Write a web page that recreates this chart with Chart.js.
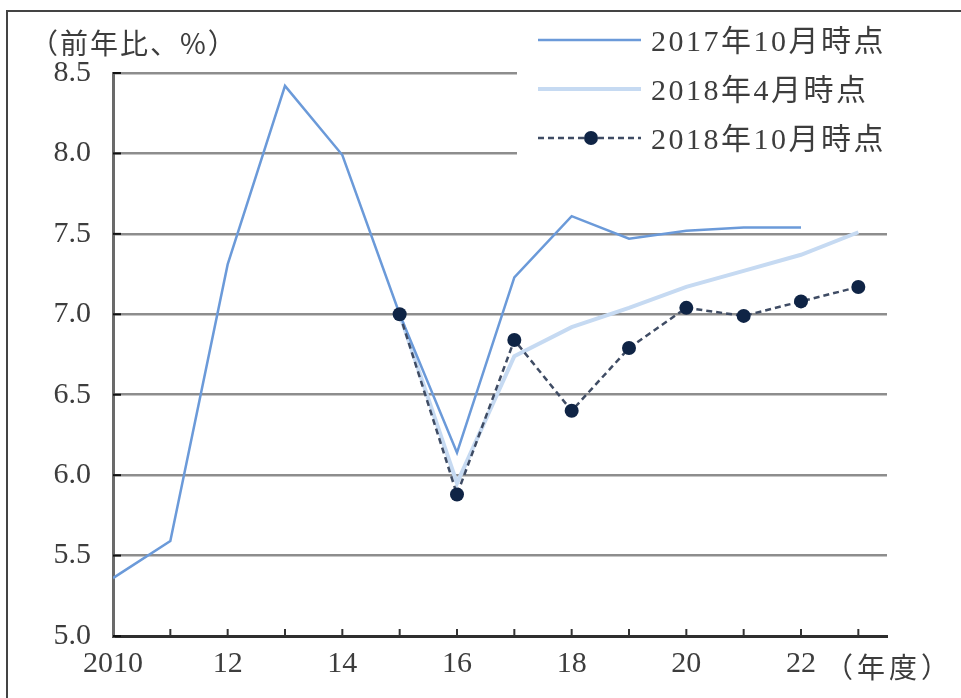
<!DOCTYPE html>
<html lang="ja">
<head>
<meta charset="utf-8">
<title>前年比</title>
<script src="https://cdn.jsdelivr.net/npm/chart.js@4/dist/chart.umd.min.js"></script>
<style>
  html, body { margin: 0; padding: 0; background: #fff; }
  #wrap { position: relative; width: 961px; height: 698px; }
</style>
</head>
<body>
<div id="wrap"><canvas id="growthChart" width="961" height="698"></canvas></div>
<script>
// 年度
const years = [2010, 2011, 2012, 2013, 2014, 2015, 2016, 2017, 2018, 2019, 2020, 2021, 2022, 2023];

// 前年比（%）
const oct2017 = [5.36, 5.59, 7.31, 8.42, 7.99, 7.0, 6.14, 7.23, 7.61, 7.47, 7.52, 7.54, 7.54, null];
const apr2018 = [null, null, null, null, null, 7.0, 5.95, 6.74, 6.92, 7.04, 7.17, 7.27, 7.37, 7.51];
const oct2018 = [null, null, null, null, null, 7.0, 5.88, 6.84, 6.40, 6.79, 7.04, 6.99, 7.08, 7.17];

const seriesNames = ['2017年10月時点', '2018年4月時点', '2018年10月時点'];
const yTicks = [5.0, 5.5, 6.0, 6.5, 7.0, 7.5, 8.0, 8.5];

const serif = '"Liberation Serif", "Noto Sans CJK JP", serif';
const textColor = '#3d3d3d';

function toPoints(values) {
    return years.map((y, i) => ({ x: y, y: values[i] }));
}

// 枠線・単位・凡例・目盛りの描画
const decorations = {
    id: 'decorations',
    beforeDraw(chart) {
        const ctx = chart.ctx;
        ctx.save();
        ctx.fillStyle = '#fff';
        ctx.fillRect(0, 0, chart.width, chart.height);
        ctx.strokeStyle = '#444';
        ctx.lineWidth = 2;
        ctx.beginPath();
        ctx.moveTo(7, chart.height);
        ctx.lineTo(7, 11);
        ctx.lineTo(chart.width, 11);
        ctx.stroke();
        ctx.restore();
    },
    beforeDatasetsDraw(chart) {
        const ctx = chart.ctx;
        const area = chart.chartArea;
        ctx.save();
        // 凡例の背景（上部の目盛線を隠す）
        ctx.fillStyle = '#fff';
        ctx.fillRect(517, 20, area.right - 517 + 4, 145);

        // 内向きの目盛り
        const xs = chart.scales.x, ys = chart.scales.y;
        ctx.strokeStyle = '#111';
        ctx.lineWidth = 2;
        ys.ticks.forEach(t => {
            const py = ys.getPixelForValue(t.value);
            ctx.beginPath();
            ctx.moveTo(area.left, py);
            ctx.lineTo(area.left + 8, py);
            ctx.stroke();
        });
        ctx.strokeStyle = '#333';
        xs.ticks.forEach(t => {
            if (t.value === xs.min) return;
            const px = xs.getPixelForValue(t.value);
            ctx.beginPath();
            ctx.moveTo(px, area.bottom);
            ctx.lineTo(px, area.bottom - 7);
            ctx.stroke();
        });
        ctx.restore();
    },
    afterDatasetsDraw(chart) {
        const ctx = chart.ctx;
        const area = chart.chartArea;
        ctx.save();
        ctx.fillStyle = textColor;
        ctx.textBaseline = 'middle';
        ctx.textAlign = 'left';
        ctx.font = '28px "Noto Sans CJK JP", sans-serif';
        ctx.letterSpacing = '2px';
        ctx.fillText('（前年比、%）', 30, 43);
        ctx.font = '28px "Noto Sans CJK JP", sans-serif';
        ctx.letterSpacing = '4px';
        ctx.fillText('（年度）', area.right - 62, 667);

        // 凡例
        const rows = [40, 89, 138];
        chart.data.datasets.forEach((ds, i) => {
            const y = rows[i];
            ctx.save();
            ctx.strokeStyle = ds.borderColor;
            ctx.lineWidth = ds.borderWidth;
            ctx.setLineDash(ds.borderDash || []);
            ctx.beginPath();
            ctx.moveTo(538, y);
            ctx.lineTo(641, y);
            ctx.stroke();
            if (ds.pointRadius > 0) {
                ctx.setLineDash([]);
                ctx.fillStyle = ds.pointBackgroundColor;
                ctx.beginPath();
                ctx.arc(591, y, ds.pointRadius, 0, Math.PI * 2);
                ctx.fill();
            }
            ctx.restore();
            ctx.fillStyle = textColor;
            ctx.font = '30px ' + serif;
            ctx.letterSpacing = '2.5px';
            ctx.fillText(ds.label, 651, y + 3);
        });
        ctx.restore();
    }
};

const ctx = document.getElementById('growthChart').getContext('2d');

new Chart(ctx, {
    type: 'line',
    data: {
        datasets: [{
            label: seriesNames[0],
            data: toPoints(oct2017),
            borderColor: '#6b9ad9',
            borderWidth: 2.5,
            pointRadius: 0,
            tension: 0,
            order: 1
        }, {
            label: seriesNames[1],
            data: toPoints(apr2018),
            borderColor: '#c6daf2',
            borderWidth: 4,
            pointRadius: 0,
            tension: 0,
            order: 2
        }, {
            label: seriesNames[2],
            data: toPoints(oct2018),
            borderColor: '#3f4c64',
            borderWidth: 2.5,
            borderDash: [6, 4],
            pointRadius: 7,
            pointBackgroundColor: '#0f2445',
            pointBorderWidth: 0,
            tension: 0,
            order: 0
        }]
    },
    options: {
        responsive: false,
        animation: false,
        spanGaps: false,
        layout: { padding: { left: 0, top: 73, right: 74, bottom: 0 } },
        plugins: {
            legend: { display: false },
            tooltip: { enabled: false }
        },
        scales: {
            x: {
                type: 'linear',
                min: 2010,
                max: 2023.5,
                afterBuildTicks: scale => {
                    scale.ticks = years.map(v => ({ value: v }));
                },
                afterFit: scale => { scale.height = 62; },
                ticks: {
                    color: textColor,
                    font: { family: serif, size: 30 },
                    padding: 10,
                    maxRotation: 0,
                    autoSkip: false,
                    callback: v => (v === 2010 ? '2010' : (v % 2 === 0 ? String(v % 100) : ''))
                },
                grid: { display: true, drawOnChartArea: false, drawTicks: false },
                border: { color: '#2e2e2e', width: 3 }
            },
            y: {
                min: 5,
                max: 8.5,
                afterBuildTicks: scale => {
                    scale.ticks = yTicks.map(v => ({ value: v }));
                },
                afterFit: scale => { scale.width = 113; },
                ticks: {
                    color: textColor,
                    font: { family: serif, size: 30 },
                    padding: 22,
                    callback: v => v.toFixed(1)
                },
                grid: { color: '#8d8d8d', lineWidth: 2.5, drawTicks: false },
                border: { color: '#6a6a6a', width: 3 }
            }
        }
    },
    plugins: [decorations]
});
</script>
</body>
</html>
